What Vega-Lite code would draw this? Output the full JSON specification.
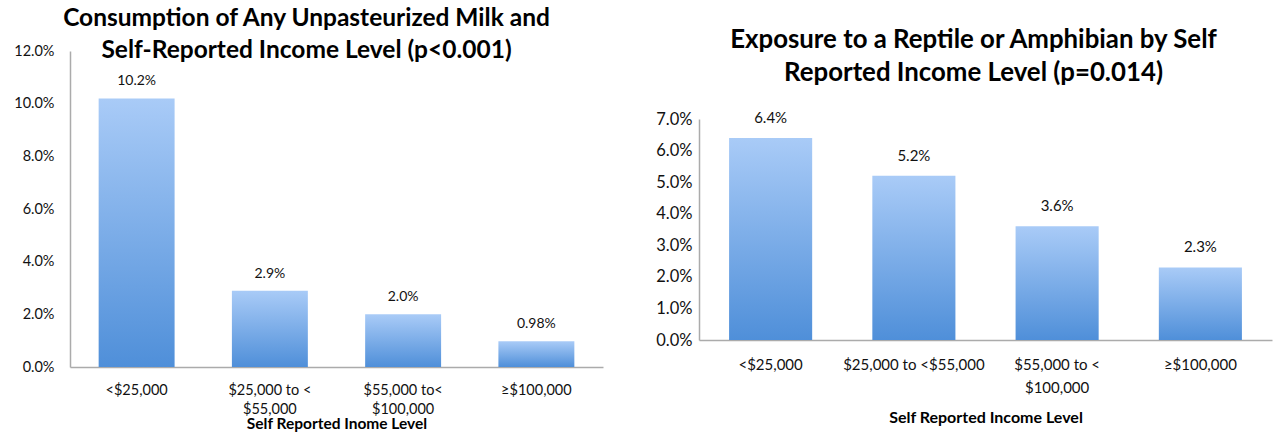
{
  "$schema": "https://vega.github.io/schema/vega-lite/v6.json",
  "padding": {"left": 13, "top": 5, "right": 10, "bottom": 0},
  "background": "white",
  "datasets": {
    "milk": [
      {"income": "<$25,000", "share": 0.102, "label": "10.2%"},
      {"income": "$25,000 to <\n$55,000", "share": 0.029, "label": "2.9%"},
      {"income": "$55,000 to<\n$100,000", "share": 0.020, "label": "2.0%"},
      {"income": "≥$100,000", "share": 0.0098, "label": "0.98%"}
    ],
    "reptile": [
      {"income": "<$25,000", "share": 0.064, "label": "6.4%"},
      {"income": "$25,000 to <$55,000", "share": 0.052, "label": "5.2%"},
      {"income": "$55,000 to <\n$100,000", "share": 0.036, "label": "3.6%"},
      {"income": "≥$100,000", "share": 0.023, "label": "2.3%"}
    ]
  },
  "spacing": 52,
  "hconcat": [
    {
      "width": 533,
      "height": 316,
      "data": {"name": "milk"},
      "title": {
        "text": ["Consumption of Any Unpasteurized Milk and", "Self-Reported Income Level (p<0.001)"],
        "font": "Lato",
        "fontSize": 24.5,
        "fontWeight": "bold",
        "lineHeight": 32,
        "color": "#000000",
        "anchor": "middle",
        "dx": -30,
        "offset": -20
      },
      "encoding": {
        "x": {
          "field": "income",
          "type": "nominal",
          "sort": null,
          "scale": {"paddingInner": 0.43, "paddingOuter": 0.215},
          "axis": {
            "title": "Self Reported Inome Level",
            "titleFont": "Lato",
            "titleFontSize": 15.5,
            "titleFontWeight": "bold",
            "titleColor": "#000000",
            "titlePadding": 1,
            "labelAngle": 0,
            "labelExpr": "split(datum.label, '\\n')",
            "labelLineHeight": 19,
            "labelFont": "Lato",
            "labelFontSize": 14.5,
            "labelColor": "#111111",
            "labelPadding": 16,
            "ticks": false,
            "domainColor": "#ababab",
            "domainWidth": 1.5
          }
        },
        "y": {
          "field": "share",
          "type": "quantitative",
          "scale": {"domain": [0, 0.12], "nice": false},
          "axis": {
            "title": null,
            "format": ".1%",
            "values": [0, 0.02, 0.04, 0.06, 0.08, 0.1, 0.12],
            "grid": false,
            "ticks": false,
            "labelFont": "Lato",
            "labelFontSize": 14.5,
            "labelColor": "#111111",
            "labelPadding": 16,
            "domainColor": "#ababab",
            "domainWidth": 1.5
          }
        }
      },
      "layer": [
        {
          "mark": {
            "type": "bar",
            "color": {
              "gradient": "linear",
              "x1": 0, "y1": 0, "x2": 0, "y2": 1,
              "stops": [
                {"offset": 0, "color": "#a9cbf7"},
                {"offset": 1, "color": "#4f8fd9"}
              ]
            }
          }
        },
        {
          "mark": {"type": "text", "baseline": "bottom", "dy": -10, "font": "Lato", "fontSize": 14, "color": "#111111"},
          "encoding": {"text": {"field": "label"}}
        }
      ]
    },
    {
      "width": 573,
      "height": 289,
      "data": {"name": "reptile"},
      "title": {
        "text": ["Exposure to a Reptile or Amphibian by Self", "Reported Income Level (p=0.014)"],
        "font": "Lato",
        "fontSize": 25.8,
        "fontWeight": "bold",
        "lineHeight": 33,
        "color": "#000000",
        "anchor": "middle",
        "dx": -12,
        "offset": -36
      },
      "encoding": {
        "x": {
          "field": "income",
          "type": "nominal",
          "sort": null,
          "scale": {"paddingInner": 0.42, "paddingOuter": 0.21},
          "axis": {
            "title": "Self Reported Income Level",
            "titleFont": "Lato",
            "titleFontSize": 16,
            "titleFontWeight": "bold",
            "titleColor": "#000000",
            "titlePadding": 14,
            "labelAngle": 0,
            "labelExpr": "split(datum.label, '\\n')",
            "labelLineHeight": 23,
            "labelFont": "Lato",
            "labelFontSize": 15,
            "labelColor": "#111111",
            "labelPadding": 17,
            "ticks": false,
            "domainColor": "#ababab",
            "domainWidth": 1.5
          }
        },
        "y": {
          "field": "share",
          "type": "quantitative",
          "scale": {"domain": [0, 0.07], "nice": false, "range": [289, 68]},
          "axis": {
            "title": null,
            "format": ".1%",
            "values": [0, 0.01, 0.02, 0.03, 0.04, 0.05, 0.06, 0.07],
            "grid": false,
            "ticks": false,
            "labelFont": "Lato",
            "labelFontSize": 16.5,
            "labelColor": "#111111",
            "labelPadding": 7,
            "domainColor": "#ababab",
            "domainWidth": 1.5
          }
        }
      },
      "layer": [
        {
          "mark": {
            "type": "bar",
            "color": {
              "gradient": "linear",
              "x1": 0, "y1": 0, "x2": 0, "y2": 1,
              "stops": [
                {"offset": 0, "color": "#a9cbf7"},
                {"offset": 1, "color": "#4f8fd9"}
              ]
            }
          }
        },
        {
          "mark": {"type": "text", "baseline": "bottom", "dy": -12, "font": "Lato", "fontSize": 15, "color": "#111111"},
          "encoding": {"text": {"field": "label"}}
        }
      ]
    }
  ],
  "config": {
    "view": {"stroke": null},
    "font": "Lato"
  }
}
